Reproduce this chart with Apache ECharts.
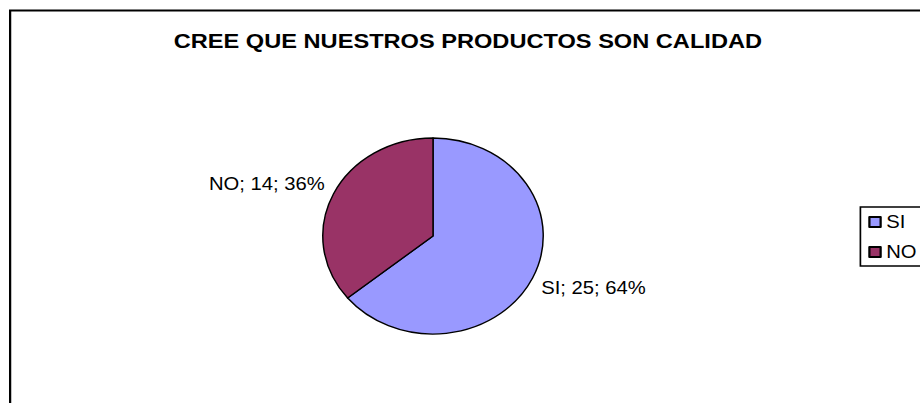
<!DOCTYPE html>
<html>
<head>
<meta charset="utf-8">
<title>CREE QUE NUESTROS PRODUCTOS SON CALIDAD</title>
<script src="https://cdn.jsdelivr.net/npm/echarts@6/dist/echarts.min.js"></script>
<style>
  html, body { margin: 0; padding: 0; background: #fff; overflow: hidden; }
  /* the original picture is stretched sideways a little, so is this one */
  #chart {
    width: 818px;
    height: 403px;
    transform: scaleX(1.1247);
    transform-origin: 0 0;
  }
</style>
</head>
<body>
<div id="chart"></div>
<script>
const titleText = 'CREE QUE NUESTROS PRODUCTOS SON CALIDAD';
const categories = ['SI', 'NO'];
const answers = [25, 14];
const sliceColors = ['#9999ff', '#993366'];

const font = '"Liberation Sans", Arial, sans-serif';

const chart = echarts.init(document.getElementById('chart'), null, { renderer: 'svg' });

chart.setOption({
    backgroundColor: '#fff',
    animation: false,
    title: {
        text: titleText,
        left: 416,
        textAlign: 'center',
        top: 30,
        padding: 0,
        textStyle: {
            fontFamily: font,
            fontSize: 21,
            fontWeight: 'bold',
            color: '#000'
        }
    },
    legend: {
        orient: 'vertical',
        left: 765,
        top: 207,
        padding: [6, 14, 5, 7],
        itemGap: 12,
        itemWidth: 10,
        itemHeight: 10,
        icon: 'rect',
        borderColor: '#000',
        borderWidth: 1.5,
        data: categories,
        textStyle: {
            fontFamily: font,
            fontSize: 18,
            color: '#000'
        }
    },
    graphic: [{
        type: 'rect',
        silent: true,
        shape: { x: 9, y: 10.5, width: 2000, height: 1000 },
        style: { fill: 'none', stroke: '#000', lineWidth: 2 }
    }],
    series: [{
        type: 'pie',
        center: [385, 236],
        radius: 98,
        startAngle: 90,
        clockwise: true,
        avoidLabelOverlap: false,
        percentPrecision: 0,
        itemStyle: {
            borderColor: '#000',
            borderWidth: 1.3
        },
        label: {
            show: true,
            position: 'outside',
            formatter: '{b}; {c}; {d}%',
            fontFamily: font,
            fontSize: 18,
            color: '#000'
        },
        labelLine: {
            show: false,
            length: 3,
            length2: 0
        },
        // Excel sets the label's corner next to the slice rim
        labelLayout: function (p) {
            return { verticalAlign: p.dataIndex === 0 ? 'top' : 'bottom' };
        },
        emphasis: { disabled: true },
        data: categories.map(function (name, i) {
            return { name: name, value: answers[i], itemStyle: { color: sliceColors[i] } };
        })
    }]
});
</script>
</body>
</html>
